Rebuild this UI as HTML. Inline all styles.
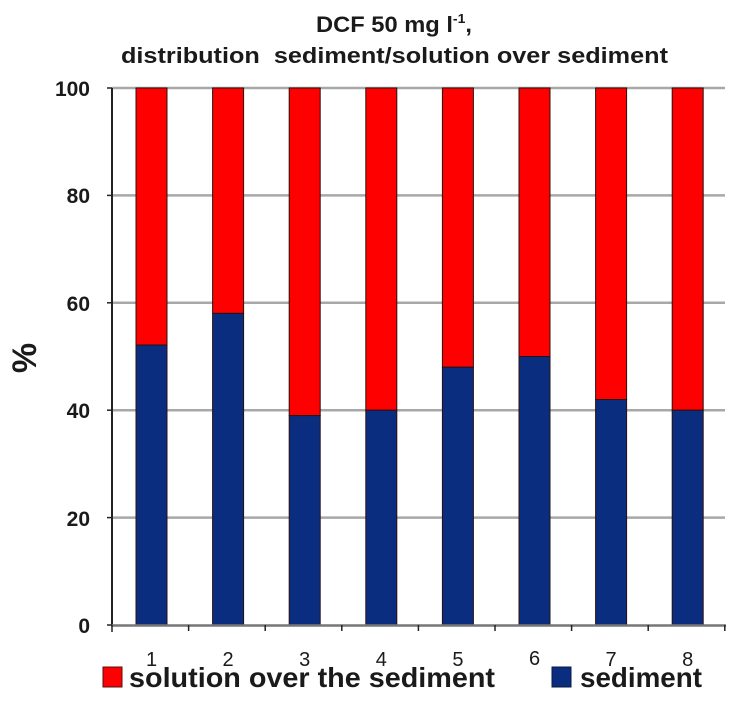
<!DOCTYPE html>
<html>
<head>
<meta charset="utf-8">
<style>
html,body{margin:0;padding:0;background:#fff;}
svg{display:block;}
text{font-family:"Liberation Sans",sans-serif;fill:#1a1a1a;}
</style>
</head>
<body>
<svg width="736" height="702" viewBox="0 0 736 702" xmlns="http://www.w3.org/2000/svg">
<rect width="736" height="702" fill="#fff"/>
<!-- Title -->
<text x="316" y="32" font-size="22" font-weight="bold" textLength="156" lengthAdjust="spacingAndGlyphs">DCF 50 mg l<tspan font-size="13" dy="-9">-1</tspan><tspan dy="9">,</tspan></text>
<text x="121" y="63" font-size="22" font-weight="bold" textLength="547" lengthAdjust="spacingAndGlyphs">distribution &#160;sediment/solution over sediment</text>

<!-- gridlines -->
<g stroke="#a8a8a8" stroke-width="2.5">
<line x1="112" y1="88" x2="725" y2="88"/>
<line x1="112" y1="195.4" x2="725" y2="195.4"/>
<line x1="112" y1="302.8" x2="725" y2="302.8"/>
<line x1="112" y1="410.2" x2="725" y2="410.2"/>
<line x1="112" y1="517.6" x2="725" y2="517.6"/>
</g>

<!-- y tick labels -->
<g font-size="21" font-weight="bold" text-anchor="end">
<text x="90" y="96">100</text>
<text x="90" y="203">80</text>
<text x="90" y="311">60</text>
<text x="90" y="418">40</text>
<text x="90" y="526">20</text>
<text x="90" y="633">0</text>
</g>

<!-- % label -->
<text x="0" y="0" font-size="34" font-weight="bold" text-anchor="middle" transform="translate(36,358) rotate(-90)">%</text>

<!-- bars -->
<g stroke="#2a1010" stroke-width="1">
<rect x="136" y="88" width="31" height="257" fill="#ff0000"/>
<rect x="136" y="345" width="31" height="280" fill="#0b2d80"/>
<rect x="212.6" y="88" width="31" height="225.4" fill="#ff0000"/>
<rect x="212.6" y="313.4" width="31" height="311.6" fill="#0b2d80"/>
<rect x="289.2" y="88" width="31" height="327.6" fill="#ff0000"/>
<rect x="289.2" y="415.6" width="31" height="209.4" fill="#0b2d80"/>
<rect x="365.8" y="88" width="31" height="322.2" fill="#ff0000"/>
<rect x="365.8" y="410.2" width="31" height="214.8" fill="#0b2d80"/>
<rect x="442.4" y="88" width="31" height="279.2" fill="#ff0000"/>
<rect x="442.4" y="367.2" width="31" height="257.8" fill="#0b2d80"/>
<rect x="519" y="88" width="31" height="268.5" fill="#ff0000"/>
<rect x="519" y="356.5" width="31" height="268.5" fill="#0b2d80"/>
<rect x="595.6" y="88" width="31" height="311.5" fill="#ff0000"/>
<rect x="595.6" y="399.5" width="31" height="225.5" fill="#0b2d80"/>
<rect x="672.2" y="88" width="31" height="322.2" fill="#ff0000"/>
<rect x="672.2" y="410.2" width="31" height="214.8" fill="#0b2d80"/>
</g>

<!-- axes -->
<line x1="112" y1="88" x2="112" y2="626" stroke="#222" stroke-width="2"/>
<line x1="111" y1="625.5" x2="726" y2="625.5" stroke="#777" stroke-width="2.5"/>
<g stroke="#222" stroke-width="1.5">
<line x1="107" y1="88" x2="112" y2="88"/>
<line x1="107" y1="195.4" x2="112" y2="195.4"/>
<line x1="107" y1="302.8" x2="112" y2="302.8"/>
<line x1="107" y1="410.2" x2="112" y2="410.2"/>
<line x1="107" y1="517.6" x2="112" y2="517.6"/>
<line x1="107" y1="625" x2="112" y2="625"/>
<line x1="112" y1="625" x2="112" y2="632"/>
<line x1="188.6" y1="625" x2="188.6" y2="631"/>
<line x1="265.2" y1="625" x2="265.2" y2="631"/>
<line x1="341.8" y1="625" x2="341.8" y2="631"/>
<line x1="418.4" y1="625" x2="418.4" y2="631"/>
<line x1="495" y1="625" x2="495" y2="631"/>
<line x1="571.6" y1="625" x2="571.6" y2="631"/>
<line x1="648.2" y1="625" x2="648.2" y2="631"/>
<line x1="724.8" y1="625" x2="724.8" y2="631"/>
</g>

<!-- x tick labels -->
<g font-size="20" text-anchor="middle">
<text x="151.5" y="666">1</text>
<text x="228.1" y="666">2</text>
<text x="304.7" y="666">3</text>
<text x="381.3" y="666">4</text>
<text x="457.9" y="666">5</text>
<text x="534.5" y="665">6</text>
<text x="611.1" y="666">7</text>
<text x="687.7" y="666">8</text>
</g>

<!-- legend -->
<rect x="103" y="667" width="19" height="20" fill="#ff0000" stroke="#551010" stroke-width="1"/>
<text x="129" y="687" font-size="28" font-weight="bold" textLength="366" lengthAdjust="spacingAndGlyphs">solution over the sediment</text>
<rect x="552" y="667" width="19" height="20" fill="#0b2d80" stroke="#0a1a40" stroke-width="1"/>
<text x="580" y="687" font-size="28" font-weight="bold" textLength="122" lengthAdjust="spacingAndGlyphs">sediment</text>
</svg>
</body>
</html>
